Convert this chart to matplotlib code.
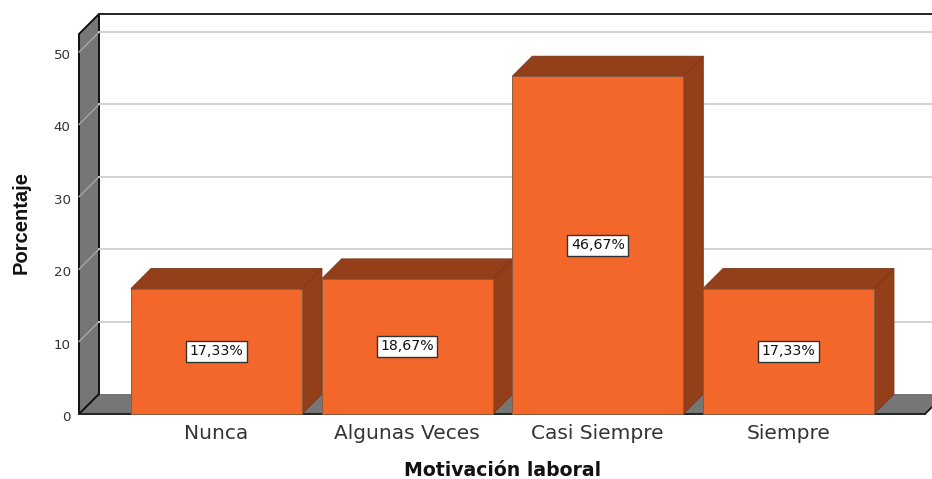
import matplotlib
matplotlib.use("Agg")
import matplotlib.pyplot as plt
from matplotlib.patches import Polygon
from matplotlib.transforms import ScaledTranslation

categories = ["Nunca", "Algunas Veces", "Casi Siempre", "Siempre"]
porcentaje = [17.33, 18.67, 46.67, 17.33]
etiquetas = ["17,33%", "18,67%", "46,67%", "17,33%"]
yticks = [0, 10, 20, 30, 40, 50]

plt.rcParams['font.family'] = ['DejaVu Sans']

W, H = 932, 479
fig = plt.figure(figsize=(W/100, H/100), dpi=100)
ax = fig.add_axes([79/W, (H-414)/H, (925-79)/W, 380/H])

ymax = 52.5
xmin, xmax = -0.721, 3.716
ax.set_xlim(xmin, xmax)
ax.set_ylim(0, ymax)

# profundidad del efecto 3D, en unidades de datos
dx = 20/190.67
dy = 20/7.24
bw = 171/190.67/2

gris = "#767676"
marron = "#93401A"
naranja = "#F4672A"
grid = "#CFCFCF"

def poly(pts, fc, ec="none", lw=0.8, z=1):
    ax.add_patch(Polygon(pts, closed=True, fc=fc, ec=ec, lw=lw, zorder=z, clip_on=False))

# pared izquierda y suelo
poly([(xmin, 0), (xmin+dx, dy), (xmax+dx, dy), (xmax, 0)], gris, z=1)
poly([(xmin, 0), (xmin+dx, dy), (xmin+dx, ymax+dy), (xmin, ymax)], gris, "#111111", 1.4, 1)

for t in yticks[1:]:
    ax.plot([xmin, xmin+dx], [t, t+dy], color="#A8A8A8", lw=1, zorder=2, clip_on=False)
    ax.plot([xmin+dx, xmax+dx], [t+dy, t+dy], color=grid, lw=1.3, zorder=2, clip_on=False)

# marco
ax.plot([xmin+dx, xmax+dx], [ymax+dy, ymax+dy], color="#222222", lw=1.4, zorder=3, clip_on=False)
ax.plot([xmin, xmax], [0, 0], color="#222222", lw=1.4, zorder=3, clip_on=False)
ax.plot([xmax, xmax+dx], [0, dy], color="#222222", lw=1.4, zorder=3, clip_on=False)

for i, v in enumerate(porcentaje):
    l, r = i-bw, i+bw
    z = 4+i
    poly([(r, 0), (r+dx, dy), (r+dx, v+dy), (r, v)], marron, "#7A3616", 0.6, z)
    poly([(l, v), (l+dx, v+dy), (r+dx, v+dy), (r, v)], marron, "#7A3616", 0.6, z)
    poly([(l, 0), (r, 0), (r, v), (l, v)], naranja, "#8A5A40", 0.7, z)
    ax.text(i, v/2, etiquetas[i], ha="center", va="center", fontsize=10.2, color="#111111", zorder=10,
            bbox=dict(boxstyle="square,pad=0.25", fc="white", ec="#333333", lw=1))

ax.set_xticks(range(len(categories)), categories)
ax.set_yticks(yticks)
ax.tick_params(axis="x", length=0, pad=7, labelsize=14.5, labelcolor="#333333")
ax.tick_params(axis="y", length=0, pad=6, labelsize=9.6, labelcolor="#333333")
bajar = ScaledTranslation(0, -2/100, fig.dpi_scale_trans)
for lab in ax.get_yticklabels():
    lab.set_transform(lab.get_transform() + bajar)
for s in ax.spines.values():
    s.set_visible(False)
ax.patch.set_alpha(0)

fig.text(503/W, 1-471/H, "Motivación laboral", ha="center", va="center", fontsize=13.6, fontweight="bold", color="#111111")
fig.text(21/W, 1-223/H, "Porcentaje", ha="center", va="center", rotation=90, fontsize=14.5, fontweight="bold", color="#111111", family="Liberation Sans")

fig.savefig("out.png", dpi=100)
